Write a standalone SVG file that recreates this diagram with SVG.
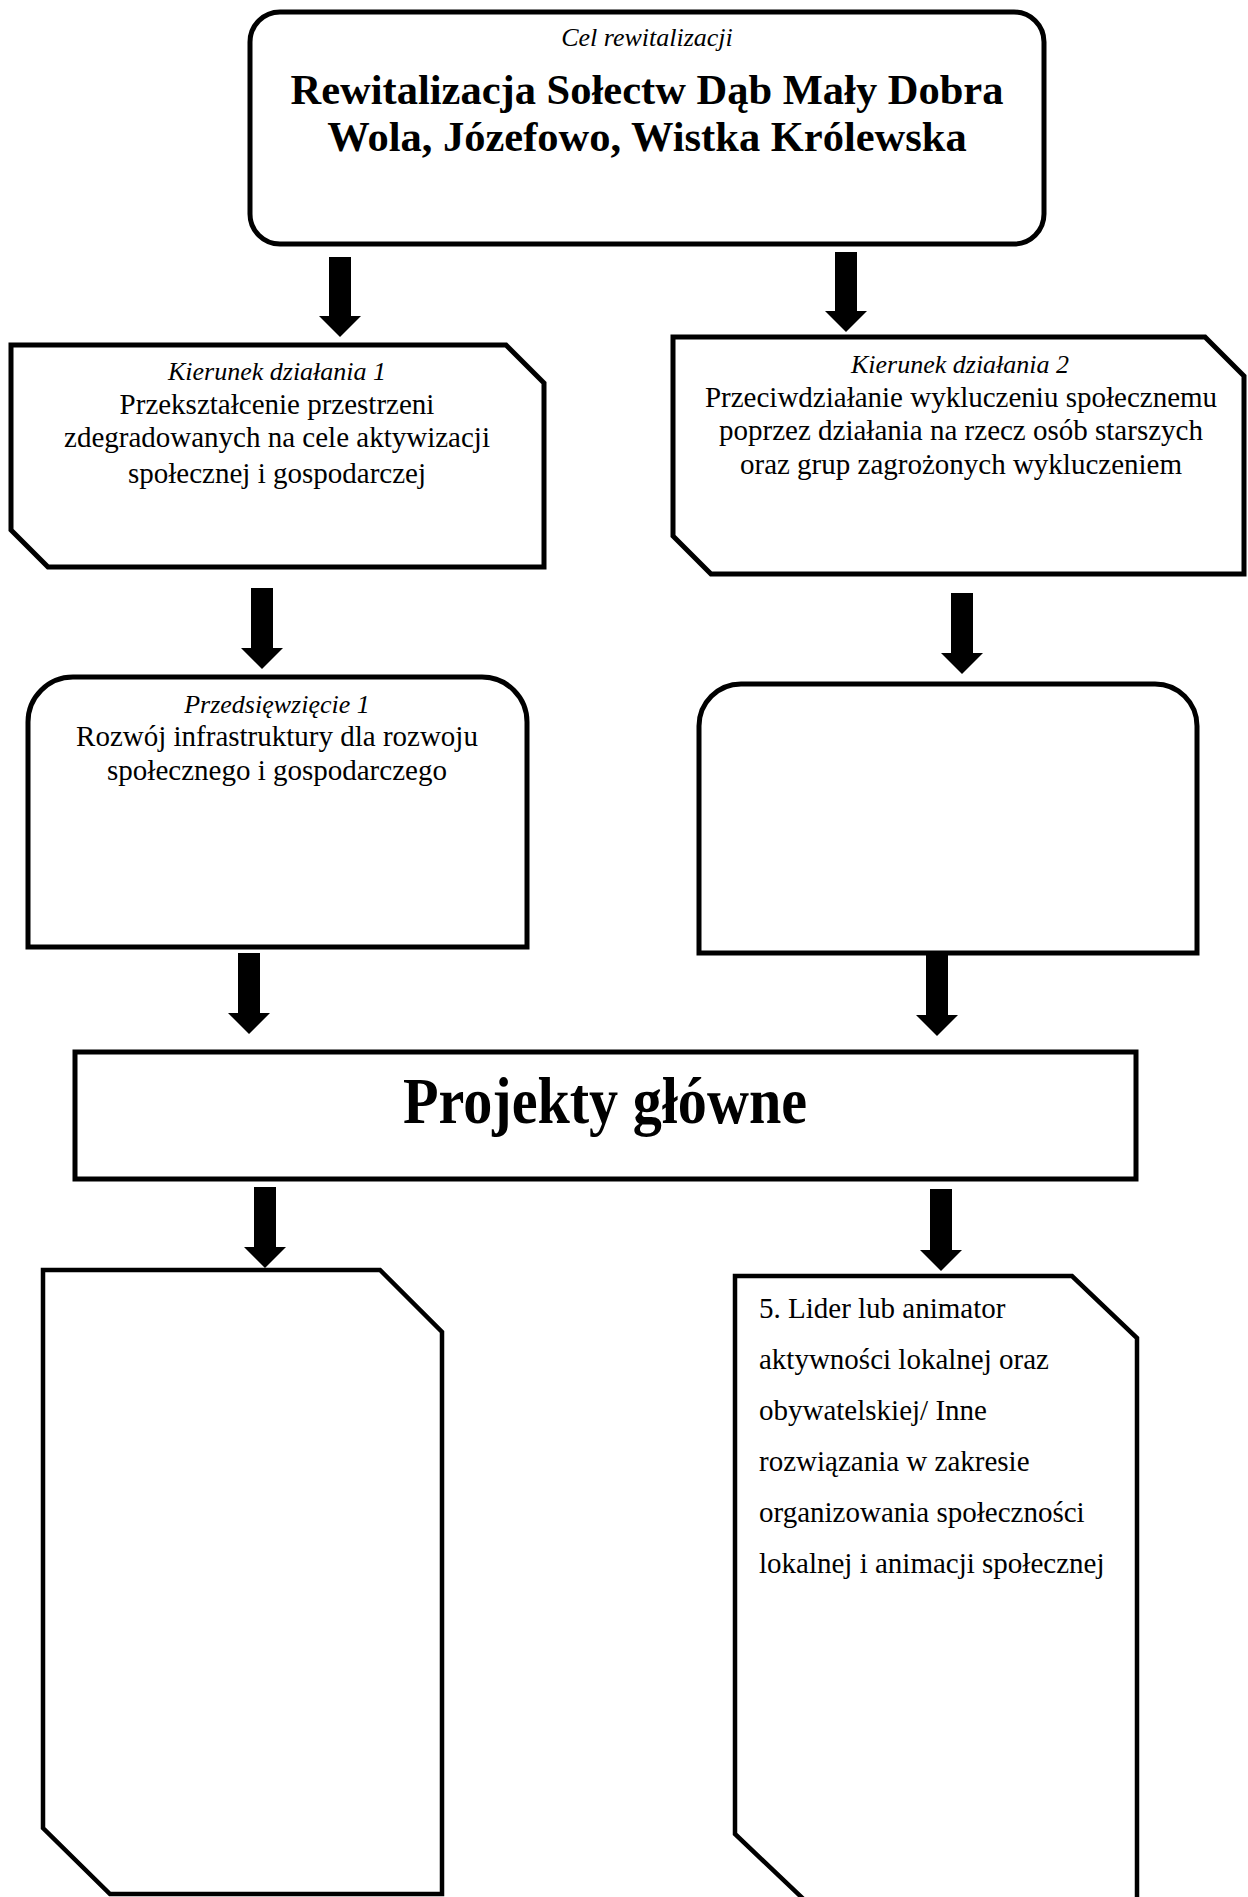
<svg xmlns="http://www.w3.org/2000/svg" width="1248" height="1897" viewBox="0 0 1248 1897">
<style>
.box{fill:#fff;stroke:#000;stroke-width:5;stroke-linejoin:miter}
.thin{stroke-width:4.5}
.arr{fill:#000}
.t{font-family:"Liberation Serif","Times New Roman",serif;fill:#000}
.it{font-style:italic;font-size:26px}
.rg{font-size:29px}
.bd{font-weight:bold}
.c{text-anchor:middle}
</style>
<rect width="1248" height="1897" fill="#fff"/>
<g id="connectors">
<polygon class="arr" points="329,257 351,257 351,316 361,316 340,337 319,316 329,316"/>
<polygon class="arr" points="835,252 857,252 857,311 867,311 846,332 825,311 835,311"/>
<polygon class="arr" points="251,588 273,588 273,648 283,648 262,669 241,648 251,648"/>
<polygon class="arr" points="951,593 973,593 973,653 983,653 962,674 941,653 951,653"/>
<polygon class="arr" points="238,953 260,953 260,1013 270,1013 249,1034 228,1013 238,1013"/>
<polygon class="arr" points="926,955 948,955 948,1015 958,1015 937,1036 916,1015 926,1015"/>
<polygon class="arr" points="254,1187 276,1187 276,1247 286,1247 265,1268 244,1247 254,1247"/>
<polygon class="arr" points="930,1189 952,1189 952,1250 962,1250 941,1271 920,1250 930,1250"/>
</g>
<g id="cel">
<rect class="box" x="250" y="12" width="794" height="232" rx="30" ry="30"/>
<text class="t it c" x="647" y="46">Cel rewitalizacji</text>
<text class="t bd c" x="647" y="104" font-size="42.5">Rewitalizacja Sołectw Dąb Mały Dobra</text>
<text class="t bd c" x="647" y="151" font-size="42.5">Wola, Józefowo, Wistka Królewska</text>
</g>
<g id="kierunek1">
<polygon class="box" points="11,345 506,345 544,383 544,567 48,567 11,530"/>
<text class="t it c" x="277" y="380">Kierunek działania 1</text>
<text class="t rg c" x="277" y="414">Przekształcenie przestrzeni</text>
<text class="t rg c" x="277" y="447">zdegradowanych na cele aktywizacji</text>
<text class="t rg c" x="277" y="483">społecznej i gospodarczej</text>
</g>
<g id="kierunek2">
<polygon class="box" points="673,337 1205,337 1244,376 1244,574 711,574 673,536"/>
<text class="t it c" x="960" y="373">Kierunek działania 2</text>
<text class="t rg c" x="961" y="407">Przeciwdziałanie wykluczeniu społecznemu</text>
<text class="t rg c" x="961" y="440">poprzez działania na rzecz osób starszych</text>
<text class="t rg c" x="961" y="474">oraz grup zagrożonych wykluczeniem</text>
</g>
<g id="przedsiewziecie1">
<path class="box" d="M28,947 V722 A45,45 0 0 1 73,677 H482 A45,45 0 0 1 527,722 V947 Z"/>
<text class="t it c" x="277" y="713">Przedsięwzięcie 1</text>
<text class="t rg c" x="277" y="746">Rozwój infrastruktury dla rozwoju</text>
<text class="t rg c" x="277" y="780">społecznego i gospodarczego</text>
</g>
<g id="przedsiewziecie2">
<path class="box" d="M699,953 V726 A42,42 0 0 1 741,684 H1155 A42,42 0 0 1 1197,726 V953 Z"/>
</g>
<g id="projekty">
<rect class="box" x="75" y="1052" width="1061" height="127"/>
<text class="t bd c" x="605" y="1123" font-size="66" textLength="404" lengthAdjust="spacingAndGlyphs">Projekty główne</text>
</g>
<g id="projekt1">
<polygon class="box thin" points="43,1270 380,1270 442,1332 442,1894 110,1894 43,1828"/>
</g>
<g id="projekt2">
<polygon class="box thin" points="735,1276 1072,1276 1137,1338 1137,1910 815,1910 735,1834"/>
<text class="t rg" x="759" y="1318">5. Lider lub animator</text>
<text class="t rg" x="759" y="1369">aktywności lokalnej oraz</text>
<text class="t rg" x="759" y="1420">obywatelskiej/ Inne</text>
<text class="t rg" x="759" y="1471">rozwiązania w zakresie</text>
<text class="t rg" x="759" y="1522">organizowania społeczności</text>
<text class="t rg" x="759" y="1573">lokalnej i animacji społecznej</text>
</g>
</svg>
